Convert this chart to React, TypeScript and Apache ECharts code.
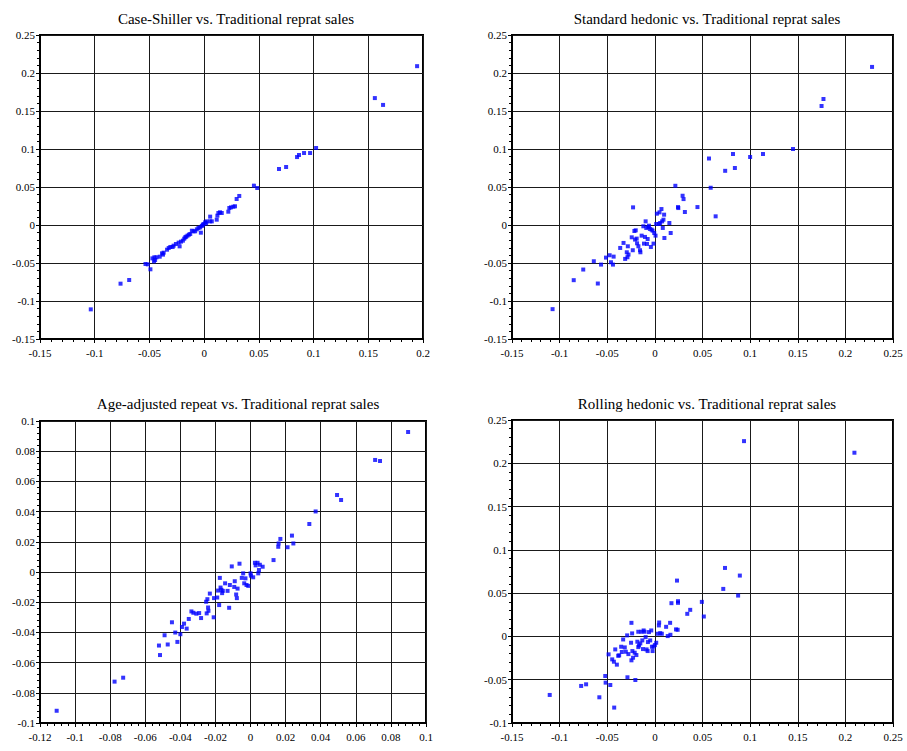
import React, { useEffect, useRef } from "react";
import * as echarts from "echarts";

const titles = [
  "Case-Shiller vs. Traditional reprat sales",
  "Standard hedonic vs. Traditional reprat sales",
  "Age-adjusted repeat vs. Traditional reprat sales",
  "Rolling hedonic vs. Traditional reprat sales",
];

const csX = [-0.1036, -0.0764, -0.0685, -0.0536, -0.0515, -0.0491, -0.0473, -0.0458, -0.0448, -0.0436, -0.0455, -0.0406, -0.0385, -0.0376, -0.037, -0.0339, -0.0324, -0.0309, -0.0288, -0.0279, -0.0258, -0.0233, -0.0224, -0.0212, -0.0194, -0.0182, -0.0173, -0.0164, -0.0152, -0.0139, -0.0127, -0.0112, -0.0097, -0.0082, -0.0067, -0.0052, -0.0036, -0.003, -0.0021, -0.0012, -0.0006, 0.0009, 0.0018, 0.0024, 0.0055, 0.007, 0.0055, 0.0115, 0.0121, 0.013, 0.0145, 0.0161, 0.0221, 0.023, 0.0245, 0.0267, 0.0282, 0.0297, 0.0321, 0.0455, 0.0485, 0.0684, 0.0749, 0.0849, 0.0867, 0.0913, 0.0968, 0.1023, 0.156, 0.1635, 0.1946];
const csY = [-0.111, -0.0772, -0.0724, -0.0513, -0.0518, -0.0583, -0.0439, -0.0478, -0.0461, -0.0425, -0.0425, -0.0417, -0.0373, -0.039, -0.0364, -0.0325, -0.0303, -0.0289, -0.0289, -0.0272, -0.025, -0.0232, -0.0281, -0.0219, -0.0206, -0.018, -0.0162, -0.0154, -0.014, -0.0127, -0.0118, -0.0075, -0.0083, -0.0083, -0.0057, -0.0039, -0.0031, -0.0101, -0.0013, 0, 0.0013, 0.0035, 0.0022, 0.0048, 0.0048, 0.0048, 0.011, 0.007, 0.0123, 0.0158, 0.0167, 0.0158, 0.0175, 0.0224, 0.0232, 0.0241, 0.0246, 0.0342, 0.0382, 0.0518, 0.0487, 0.0737, 0.0763, 0.0894, 0.0921, 0.0947, 0.0947, 0.1013, 0.167, 0.158, 0.209];

const shX = [-0.1074, -0.0852, -0.0752, -0.0641, -0.0599, -0.0565, -0.0513, -0.0475, -0.0461, -0.044, -0.0433, -0.0364, -0.0329, -0.0312, -0.0288, -0.0284, -0.0295, -0.0277, -0.0243, -0.0232, -0.0229, -0.0215, -0.0201, -0.0208, -0.0191, -0.0187, -0.0173, -0.0156, -0.0152, -0.0139, -0.0121, -0.0114, -0.0104, -0.0097, -0.009, -0.0083, -0.0076, -0.0069, -0.0062, -0.0052, -0.0042, -0.0035, -0.0024, -0.0014, -0.0007, 0.0007, 0.0014, 0.0021, 0.0049, 0.0042, 0.0055, 0.0069, 0.0076, 0.0083, 0.009, 0.0097, 0.01, 0.0152, 0.0166, 0.0215, 0.0243, 0.0246, 0.0291, 0.0301, 0.0315, 0.0447, 0.0568, 0.0586, 0.0638, 0.0738, 0.082, 0.084, 0.1, 0.1135, 0.145, 0.175, 0.177, 0.228];
const shY = [-0.1107, -0.0726, -0.0586, -0.0477, -0.077, -0.0521, -0.0429, -0.0398, -0.049, -0.0521, -0.0416, -0.0302, -0.0236, -0.0446, -0.0424, -0.028, -0.0359, -0.0389, -0.0162, -0.0332, 0.0232, -0.0079, -0.007, -0.0192, -0.0179, -0.0241, -0.028, -0.0332, -0.0359, -0.014, -0.0017, -0.0245, -0.0157, 0.0048, -0.0039, -0.0249, -0.0184, -0.0026, -0.0009, -0.0052, -0.0289, -0.0061, -0.0074, -0.0245, -0.0105, -0.014, 0.0013, 0.0149, 0.0166, 0.0013, 0.0026, 0.021, 0.0048, -0.0039, 0.007, 0.0136, -0.0171, 0.0026, -0.0105, 0.0516, 0.0236, 0.0223, 0.0385, 0.0341, 0.0171, 0.0236, 0.0875, 0.049, 0.0114, 0.0713, 0.0934, 0.075, 0.0895, 0.0934, 0.1, 0.1566, 0.1658, 0.208];

const aaX = [-0.1105, -0.0775, -0.0726, -0.0522, -0.0516, -0.049, -0.0472, -0.0448, -0.0429, -0.0417, -0.04, -0.0391, -0.0379, -0.0364, -0.0352, -0.0337, -0.0326, -0.0309, -0.0293, -0.0282, -0.0253, -0.025, -0.0246, -0.0242, -0.024, -0.0232, -0.021, -0.0208, -0.019, -0.0185, -0.0179, -0.0175, -0.0171, -0.0166, -0.0162, -0.0158, -0.0145, -0.0131, -0.0122, -0.0118, -0.0107, -0.0093, -0.009, -0.0082, -0.0078, -0.0074, -0.0063, -0.005, -0.0042, -0.0036, -0.0029, -0.0023, -0.0013, 0, 0.0002, 0.0015, 0.0025, 0.0029, 0.004, 0.0044, 0.0048, 0.0053, 0.0069, 0.0131, 0.0158, 0.016, 0.017, 0.0211, 0.0236, 0.0244, 0.0335, 0.0371, 0.0493, 0.0516, 0.071, 0.0738, 0.0898];
const aaY = [-0.0919, -0.0726, -0.07, -0.0487, -0.055, -0.0419, -0.048, -0.0333, -0.0401, -0.0463, -0.0412, -0.0364, -0.0342, -0.0375, -0.0311, -0.0261, -0.027, -0.0276, -0.0272, -0.0305, -0.0197, -0.0274, -0.018, -0.0235, -0.0257, -0.0143, -0.03, -0.0173, -0.0169, -0.0123, -0.0219, -0.0039, -0.0103, -0.0118, -0.014, -0.0125, -0.0075, -0.0125, -0.0237, -0.0086, 0.0037, -0.0099, -0.0061, -0.0149, -0.0173, -0.011, 0.0055, -0.0039, -0.0009, -0.0075, -0.0042, -0.0086, -0.0092, -0.0009, -0.0024, -0.0035, 0.0061, 0.0044, 0.0061, -0.0009, 0.0013, 0.0048, 0.0035, 0.0079, 0.0167, 0.0189, 0.0219, 0.0164, 0.0241, 0.0189, 0.0318, 0.0401, 0.051, 0.0477, 0.0742, 0.0735, 0.0927];

const rhX = [-0.1104, -0.0774, -0.0722, -0.0583, -0.0521, -0.0517, -0.0468, -0.0486, -0.0448, -0.0427, -0.0416, -0.043, -0.0399, -0.0385, -0.0375, -0.0354, -0.0347, -0.0333, -0.0316, -0.0305, -0.0291, -0.0288, -0.0278, -0.025, -0.0246, -0.0239, -0.0236, -0.0246, -0.0229, -0.0212, -0.0205, -0.0194, -0.0184, -0.0174, -0.0174, -0.0167, -0.0153, -0.0142, -0.0132, -0.0125, -0.0118, -0.0108, -0.0097, -0.0087, -0.0076, -0.0073, -0.0062, -0.0049, -0.0038, -0.0031, -0.0024, -0.0014, 0, 0.0014, 0.0031, 0.0042, 0.0045, 0.0056, 0.0073, 0.0118, 0.0135, 0.016, 0.0163, 0.0174, 0.0222, 0.0239, 0.0232, 0.0243, 0.0243, 0.034, 0.0371, 0.0493, 0.0514, 0.0718, 0.0736, 0.0874, 0.0892, 0.0936, 0.2095];
const rhY = [-0.0676, -0.0572, -0.0553, -0.0703, -0.0457, -0.0534, -0.0561, -0.0207, -0.0265, -0.0822, -0.015, -0.0292, -0.0326, -0.0223, -0.0219, -0.0119, -0.018, -0.0035, -0.0127, -0.0177, 0.0012, -0.0472, -0.0204, -0.0073, -0.0276, 0.0035, -0.0169, 0.0157, -0.0246, -0.0188, -0.0503, -0.0215, -0.0061, 0.0054, -0.0123, -0.0104, -0.0081, 0.0054, -0.0046, -0.0146, 0.0069, 0.0054, -0.0008, -0.015, -0.0169, -0.0065, 0.005, -0.0046, 0.0069, -0.0119, -0.0169, -0.0119, -0.01, -0.0073, 0.0031, 0.0127, 0.0161, 0.0038, 0.0031, 0.0111, 0.0004, 0.0157, 0.0019, 0.0384, 0.0081, 0.0077, 0.0645, 0.0407, 0.0388, 0.0261, 0.0307, 0.0399, 0.023, 0.0549, 0.0791, 0.0472, 0.0703, 0.2256, 0.2122];

const panels = [
  { x: csX, y: csY, xr: [-0.15, 0.2, 0.05], yr: [-0.15, 0.25, 0.05], grid: { left: 40, top: 35, width: 383, height: 304 }, tx: 231 },
  { x: shX, y: shY, xr: [-0.15, 0.25, 0.05], yr: [-0.15, 0.25, 0.05], grid: { left: 512, top: 35, width: 381, height: 304 }, tx: 702 },
  { x: aaX, y: aaY, xr: [-0.12, 0.1, 0.02], yr: [-0.1, 0.1, 0.02], grid: { left: 40, top: 421, width: 386, height: 302 }, tx: 233 },
  { x: rhX, y: rhY, xr: [-0.15, 0.25, 0.05], yr: [-0.1, 0.25, 0.05], grid: { left: 512, top: 420, width: 381, height: 303 }, tx: 702 },
];

const titleTops = [6, 6, 391, 391];
const font = "'Liberation Serif', 'Times New Roman', serif";

export default function App() {
  const ref = useRef<HTMLDivElement>(null);
  useEffect(() => {
    if (!ref.current) return;
    const chart = echarts.init(ref.current, undefined, { renderer: "svg" });
    const axisCommon = (r: number[], isX: boolean) => ({
      type: "value",
      min: r[0],
      max: r[1],
      interval: r[2],
      axisLine: { show: true, onZero: false, lineStyle: { color: "#000", width: 2 } },
      axisTick: { show: true, length: 4, lineStyle: { color: "#000", width: 1 } },
      minorTick: { show: true, splitNumber: 5, length: 3, lineStyle: { color: "#000", width: 1 } },
      splitLine: { show: true, lineStyle: { color: "#1a1a1a", width: 1 } },
      axisLabel: {
        color: "#000",
        fontFamily: font,
        fontSize: 11,
        margin: isX ? 8 : 5,
        formatter: (v: number) => String(Math.round(v * 1000) / 1000),
      },
    });
    chart.setOption({
      animation: false,
      backgroundColor: "#fff",
      title: panels.map((p, i) => ({
        text: titles[i],
        left: p.tx,
        top: titleTops[i],
        textAlign: "center",
        textStyle: { fontFamily: font, fontSize: 15, fontWeight: "normal", color: "#000" },
      })),
      grid: panels.map((p) => ({
        ...p.grid,
        show: true,
        borderColor: "#000",
        borderWidth: 2,
        backgroundColor: "transparent",
        containLabel: false,
      })),
      xAxis: panels.map((p, i) => ({ ...axisCommon(p.xr, true), gridIndex: i })),
      yAxis: panels.map((p, i) => ({ ...axisCommon(p.yr, false), gridIndex: i })),
      series: panels.map((p, i) => ({
        type: "scatter",
        xAxisIndex: i,
        yAxisIndex: i,
        symbol: "rect",
        symbolSize: 4,
        itemStyle: { color: "#0000ff" },
        data: p.x.map((xv, k) => [xv, p.y[k]]),
      })),
    });
    return () => chart.dispose();
  }, []);
  return (
    <div
      ref={ref}
      style={{ position: "absolute", left: 0, top: 0, width: 907, height: 751, background: "#fff" }}
    />
  );
}
